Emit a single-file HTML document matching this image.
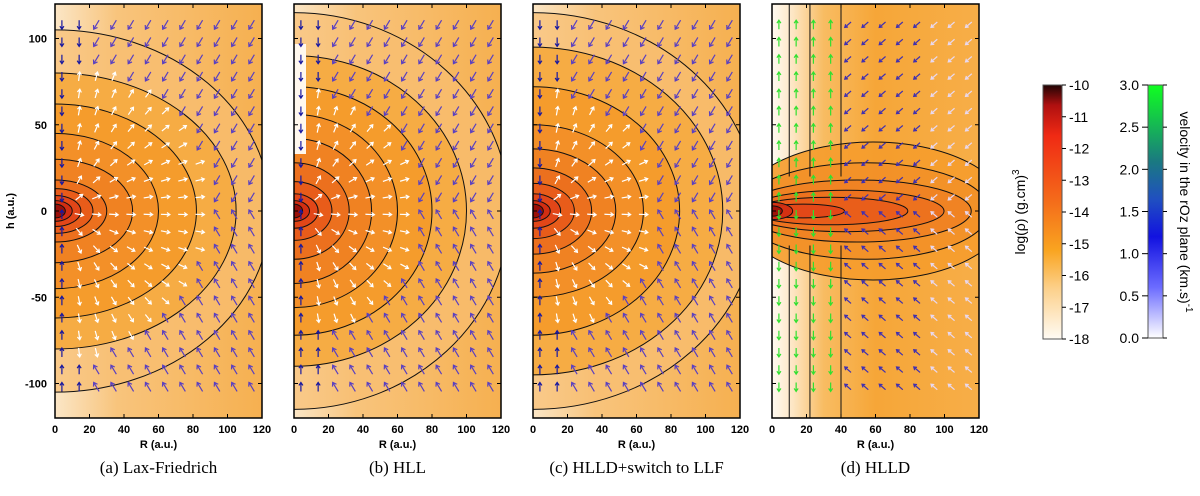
<!DOCTYPE html>
<html><head><meta charset="utf-8"><style>
body{margin:0;background:#fff;width:1200px;height:496px;overflow:hidden;font-family:"Liberation Sans",sans-serif}
svg{display:block}
.tk{font:bold 11px "Liberation Sans",sans-serif;fill:#000}
.cap{font:17px "Liberation Serif",serif;fill:#000}
</style></head><body>
<svg id="fig" width="1200" height="496">
<defs>
<linearGradient id="rhoBar" x1="0" y1="1" x2="0" y2="0">
<stop offset="0" stop-color="#fffbf4"/><stop offset="0.2" stop-color="#fcd08a"/><stop offset="0.35" stop-color="#f9a420"/><stop offset="0.55" stop-color="#f46a1a"/><stop offset="0.8" stop-color="#f02a14"/><stop offset="0.92" stop-color="#b01010"/><stop offset="1" stop-color="#200404"/></linearGradient>
<linearGradient id="velBar" x1="0" y1="1" x2="0" y2="0">
<stop offset="0" stop-color="#ffffff"/><stop offset="0.2" stop-color="#6c6cff"/><stop offset="0.4" stop-color="#1212e0"/><stop offset="0.55" stop-color="#2050c0"/><stop offset="0.7" stop-color="#1a7a80"/><stop offset="1" stop-color="#10ff20"/></linearGradient>
<linearGradient id="dleft" x1="0" y1="0" x2="1" y2="0">
<stop offset="0" stop-color="#fffaf2"/><stop offset="0.1" stop-color="#fde6c4"/><stop offset="0.25" stop-color="#f8bc62"/><stop offset="0.5" stop-color="#f6a638"/><stop offset="1" stop-color="#f7ae48"/></linearGradient>
<linearGradient id="abg" x1="0" y1="0" x2="1" y2="0">
<stop offset="0" stop-color="#fbe6c6"/><stop offset="0.3" stop-color="#f8c47c"/><stop offset="1" stop-color="#f6b050"/></linearGradient>
</defs>
</svg>
<script>
const xTicks=[0,20,40,60,80,100,120];
const yTicks=[100,50,0,-50,-100];
const rhoTicks=[-10,-11,-12,-13,-14,-15,-16,-17,-18];
const velTicks=[3.0,2.5,2.0,1.5,1.0,0.5,0.0];
const panelLefts=[55,294,533,772];
const captions=["(a)  Lax-Friedrich","(b)  HLL","(c)  HLLD+switch to LLF","(d)  HLLD"];
// contour radii (au) [rR, rH], outer to inner
const contoursA=[[125,105],[105,80],[82,62],[60,45],[45,30],[30,18],[22,13],[15,9],[10,6],[6,4]];
const contoursB=[[125,115],[100,90],[80,72],[60,56],[45,42],[32,28],[22,17],[14,10],[9,6],[5,4]];
const contoursC=[[130,115],[110,95],[85,72],[64,50],[48,36],[34,25],[24,16],[16,10],[10,6],[6,4]];
const contoursD=[[130,40],[120,28],[110,18],[95,12],[75,8],[40,4],[12,5],[6,3]];
const levelColors=['#f8be70','#f6ac44','#f59c2c','#f39028','#f08222','#ec701e','#e85c1a','#e24618','#d22e12','#9a1008'];
const NS="http://www.w3.org/2000/svg";
const svg=document.getElementById('fig');
const T=4,B=418,W=207;
function sx(L,r){return L+r*W/120}
function sy(h){return T+(120-h)*(B-T)/240}
function el(t,a,p){const e=document.createElementNS(NS,t);for(const k in a)e.setAttribute(k,a[k]);(p||svg).appendChild(e);return e}
panelLefts.forEach((L,i)=>{
 const g=el('g',{});
 
 
 const cp=el('clipPath',{id:'cp'+i},g);el('rect',{x:L,y:T,width:W,height:B-T},cp);
 const inner=el('g',{'clip-path':'url(#cp'+i+')'},g);
 if(i<3){
  el('rect',{x:L,y:T,width:W,height:B-T,fill:'url(#abg)'},inner);
  const cs=[contoursA,contoursB,contoursC][i];
  cs.forEach((c,k)=>{const e=el('ellipse',{cx:L,cy:sy(0),rx:c[0]*W/120,ry:c[1]*(B-T)/240,fill:levelColors[k],'fill-opacity':k==0?0.7:1,stroke:'#111','stroke-width':1},inner);
   });
  if(i==1) el('rect',{x:L,y:T+40,width:12,height:110,fill:'#fff8ee'},inner);
 } else {
  el('rect',{x:L,y:T,width:W,height:B-T,fill:'url(#dleft)'},inner);
  contoursD.forEach((c,k)=>{const cx=k<6?sx(L,c[0]*0.45):L;const e=el('ellipse',{cx:cx,cy:sy(0),rx:(k<6?c[0]*0.6:c[0])*W/120,ry:c[1]*(B-T)/240,fill:levelColors[Math.min(9,k+2)],'fill-opacity':0.9,stroke:'#111','stroke-width':1},inner);
   });
  [10,22,40].forEach(r=>{el('line',{x1:sx(L,r),y1:T,x2:sx(L,r),y2:sy(20),stroke:'#111','stroke-width':1},inner);el('line',{x1:sx(L,r),y1:sy(-20),x2:sx(L,r),y2:B,stroke:'#111','stroke-width':1},inner);});
 }
 for(let r=0;r<=110;r+=10){for(let h=108;h>=-108;h-=10){
  let dx,dy,col;const d=Math.hypot(r,h);
  if(i==3){ if(r<35){dx=0;dy=h>0?-1:1;col='#30e030';} else {dx=-0.7;dy=h>0?0.6:-0.6;col=r>80?'#e8d8f0':'#4030b0';}}
  else if(d<(i==0?85:70) && r>8){dx=r/d;dy=-h/d;col='#ffffff';}
  else {dx=r<20?0:-0.6;dy=h>0?1:-1;col=r<20?'#1818a0':'#5a40c0';}
  const x=sx(L,r+4),y=sy(h),len=9;
  const x2=x+dx*len/2,y2=y+dy*len/2;
  const ar=el('path',{d:`M${x-dx*len/2},${y-dy*len/2}L${x2},${y2}M${x2-dx*3-dy*2},${y2-dy*3+dx*2}L${x2},${y2}L${x2-dx*3+dy*2},${y2-dy*3-dx*2}`,stroke:col,'stroke-width':1.2,fill:'none'},inner);
  
 }}
 el('rect',{x:L,y:T,width:W,height:B-T,fill:'none',stroke:'#000','stroke-width':1.5},g);
 xTicks.forEach(v=>{const x=sx(L,v);el('line',{x1:x,y1:B,x2:x,y2:B-4,stroke:'#000'},g);el('line',{x1:x,y1:T,x2:x,y2:T+4,stroke:'#000'},g);
  const t=el('text',{x:x,y:B+15,'text-anchor':'middle',class:'tk'},g);t.textContent=v;
  });
 yTicks.forEach(v=>{const y=sy(v);el('line',{x1:L,y1:y,x2:L+4,y2:y,stroke:'#000'},g);el('line',{x1:L+W,y1:y,x2:L+W-4,y2:y,stroke:'#000'},g);
  if(i==0){const t=el('text',{x:L-8,y:y+4,'text-anchor':'end',class:'tk'},g);t.textContent=v;
  }});
 const xl=el('text',{x:L+W/2,y:B+30,'text-anchor':'middle',class:'tk'},g);xl.textContent='R (a.u.)';
 
 const c=el('text',{x:L+W/2,y:B+55,'text-anchor':'middle',class:'cap'},g);c.textContent=captions[i];
 
});
const yl=el('text',{x:14,y:sy(0),'text-anchor':'middle',class:'tk',transform:'rotate(-90 14 '+sy(0)+')'});yl.textContent='h (a.u.)';

const cb1=el('rect',{x:1043,y:85,width:19,height:254,fill:'url(#rhoBar)',stroke:'#555'});

rhoTicks.forEach((v,k)=>{const y=85+k*254/8;el('line',{x1:1062,y1:y,x2:1066,y2:y,stroke:'#000'});
 const t=el('text',{x:1069,y:y+5,style:'font:14px "Liberation Sans",sans-serif'});t.textContent=v;
 });
const dt=el('text',{x:1025,y:212,'text-anchor':'middle',style:'font:14px "Liberation Sans",sans-serif',transform:'rotate(-90 1025 212)'});
dt.textContent='log(ρ) (g.cm)';const sup=el('tspan',{dy:-6,style:'font-size:10px'},dt);sup.textContent='3';

const cb2=el('rect',{x:1148,y:85,width:15,height:253,fill:'url(#velBar)',stroke:'#555'});

velTicks.forEach((v,k)=>{const y=85+k*253/6;el('line',{x1:1142,y1:y,x2:1148,y2:y,stroke:'#000'});el('line',{x1:1163,y1:y,x2:1167,y2:y,stroke:'#000'});
 const t=el('text',{x:1139,y:y+5,'text-anchor':'end',style:'font:14px "Liberation Sans",sans-serif'});t.textContent=v.toFixed(1);
 });
const vt=el('text',{x:1180,y:212,'text-anchor':'middle',style:'font:14px "Liberation Sans",sans-serif',transform:'rotate(90 1180 212)'});vt.textContent='velocity in the rOz plane (km.s)';
const sup2=el('tspan',{dy:-6,style:'font-size:10px'},vt);sup2.textContent='-1';

</script>
</body></html>
